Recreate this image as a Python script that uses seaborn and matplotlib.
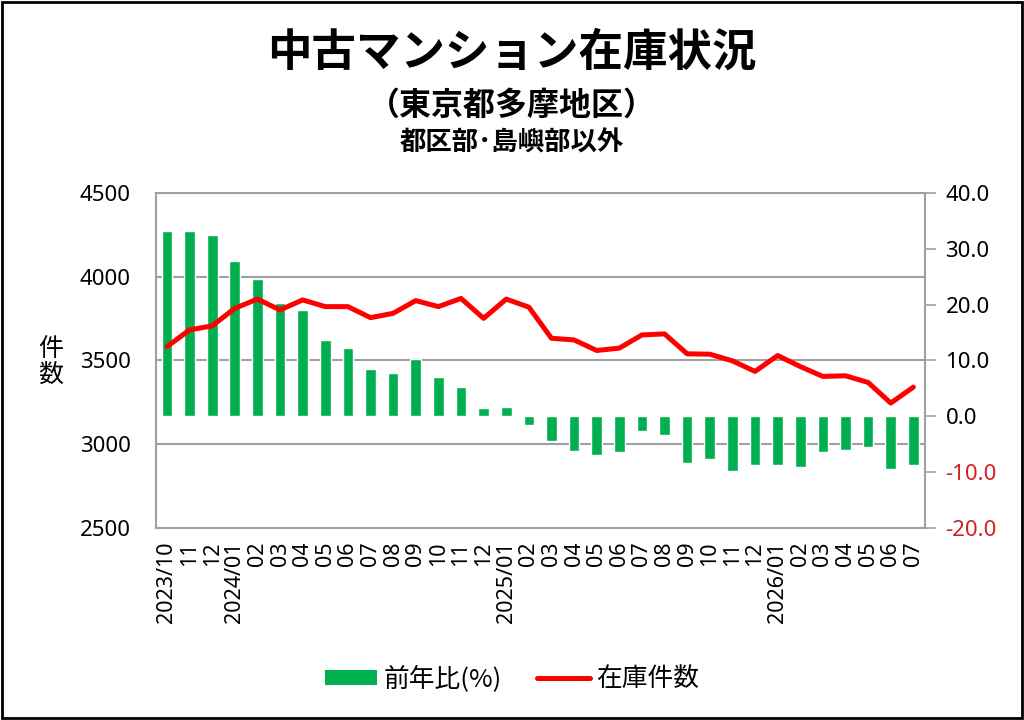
import numpy as np
import matplotlib
matplotlib.use("Agg")
import matplotlib.pyplot as plt
import matplotlib.transforms as mtransforms
from matplotlib.patches import Patch, Rectangle
from matplotlib.lines import Line2D
import seaborn as sns

# months 2023/10 .. 2026/07
months = ["2023/10", "11", "12",
          "2024/01", "02", "03", "04", "05", "06", "07", "08", "09", "10", "11", "12",
          "2025/01", "02", "03", "04", "05", "06", "07", "08", "09", "10", "11", "12",
          "2026/01", "02", "03", "04", "05", "06", "07"]

# 在庫件数 (left axis)
stock = [3582, 3682, 3706, 3811, 3866, 3801, 3861, 3821, 3821, 3755, 3781, 3857,
         3821, 3870, 3751, 3866, 3818, 3632, 3622, 3559, 3573, 3652, 3658, 3539,
         3537, 3497, 3434, 3529, 3463, 3404, 3408, 3368, 3245, 3340]

# 前年比(%) (right axis)
yoy = [33.1, 33.1, 32.5, 27.8, 24.5, 20.2, 19.1, 13.7, 12.2, 8.5, 7.7, 10.3,
       7.0, 5.2, 1.5, 1.7, -1.5, -4.5, -6.3, -6.9, -6.4, -2.7, -3.4, -8.4,
       -7.6, -9.9, -8.7, -8.8, -9.1, -6.4, -6.0, -5.6, -9.4, -8.7]

GREEN = "#00B050"
RED = "#FF0000"
GRAY = "#A0A0A0"
LATIN = ["Noto Sans", "Noto Sans CJK JP", "DejaVu Sans"]
CJK = ["Noto Sans CJK JP", "DejaVu Sans"]

sns.set_theme(style="white")
plt.rcParams["font.family"] = LATIN
plt.rcParams["text.color"] = "black"
plt.rcParams["xtick.color"] = "black"
plt.rcParams["ytick.color"] = "black"
plt.rcParams["axes.labelcolor"] = "black"

fig = plt.figure(figsize=(10.24, 7.2), dpi=100)
ax1 = fig.add_axes([0.152, 0.267, 0.751, 0.465])
ax2 = ax1.twinx()

x = np.arange(len(months))

# bars on right axis
sns.barplot(x=x, y=yoy, ax=ax2, color=GREEN, width=0.47, saturation=1,
            native_scale=True, zorder=2)
ax2.set_ylim(-20, 40)
rticks = np.arange(-20, 41, 10)
ax2.set_yticks(rticks)
ax2.set_yticklabels([f"{v:.1f}" for v in rticks], fontsize=16)
for t, v in zip(ax2.get_yticklabels(), rticks):
    t.set_color("#D42020" if v < 0 else "black")
ax2.tick_params(axis="y", right=True, length=8, width=1.2, color=GRAY, pad=7)
for s in ["left", "top", "bottom"]:
    ax2.spines[s].set_visible(False)
ax2.spines["right"].set_color(GRAY)
ax2.spines["right"].set_linewidth(1.5)
ax2.set_ylabel("")

# line on left axis
sns.lineplot(x=x, y=stock, ax=ax1, color=RED, linewidth=3.6, zorder=3)
ax1.set_ylim(2500, 4500)
ax1.set_yticks(np.arange(2500, 4501, 500))
ax1.tick_params(axis="y", left=False, labelsize=16, pad=12, labelcolor="black")
ax1.set_xlim(-0.5, len(months) - 0.5)
ax1.set_xticks(x)
ax1.set_xticklabels(months, rotation=90, fontsize=15.5)
ax1.tick_params(axis="x", bottom=False, pad=4, labelcolor="black")
ax1.set_xlabel("")
ax1.set_ylabel("")
ax1.spines["right"].set_visible(False)
for s in ["left", "top", "bottom"]:
    ax1.spines[s].set_color(GRAY)
    ax1.spines[s].set_linewidth(1.5)

# layering: line above bars, grid below bars
ax1.set_zorder(ax2.get_zorder() + 1)
ax1.patch.set_visible(False)
ax1.grid(False)
ax2.grid(False)
trans = mtransforms.blended_transform_factory(ax2.transAxes, ax1.transData)
for v in ax1.get_yticks():
    ax2.plot([0, 1], [v, v], transform=trans, color=GRAY, linewidth=1.5, zorder=1)

# titles
fig.text(0.5, 1 - 53 / 720, "中古マンション在庫状況", ha="center", va="center",
         fontsize=32, fontweight="bold", family=CJK, color="black")
fig.text(0.5, 1 - 106 / 720, "（東京都多摩地区）", ha="center", va="center",
         fontsize=23, fontweight="bold", family=CJK, color="black")
fig.text(0.5, 1 - 143 / 720, "都区部･島嶼部以外", ha="center", va="center",
         fontsize=19, fontweight="bold", family=CJK, color="black")

fig.text(51 / 1024, 1 - 362 / 720, "件\n数", ha="center", va="center",
         fontsize=18, linespacing=1.0, family=CJK, color="black")

handles = [Patch(facecolor=GREEN, edgecolor="none"),
           Line2D([0], [0], color=RED, linewidth=3.6)]
leg = fig.legend(handles, ["前年比(%)", "在庫件数"], loc="center",
                 bbox_to_anchor=(0.5, 1 - 679 / 720), ncol=2, frameon=False,
                 prop={"family": CJK, "size": 18.5}, handlelength=2.06,
                 handleheight=0.55, columnspacing=1.36, handletextpad=0.25)
for t in leg.get_texts():
    t.set_color("black")

# outer frame
fig.patches.append(Rectangle((0.002, 0.003), 0.996, 0.994, transform=fig.transFigure,
                             fill=False, edgecolor="black", linewidth=2))

fig.savefig("out.png", dpi=100, facecolor="white")
